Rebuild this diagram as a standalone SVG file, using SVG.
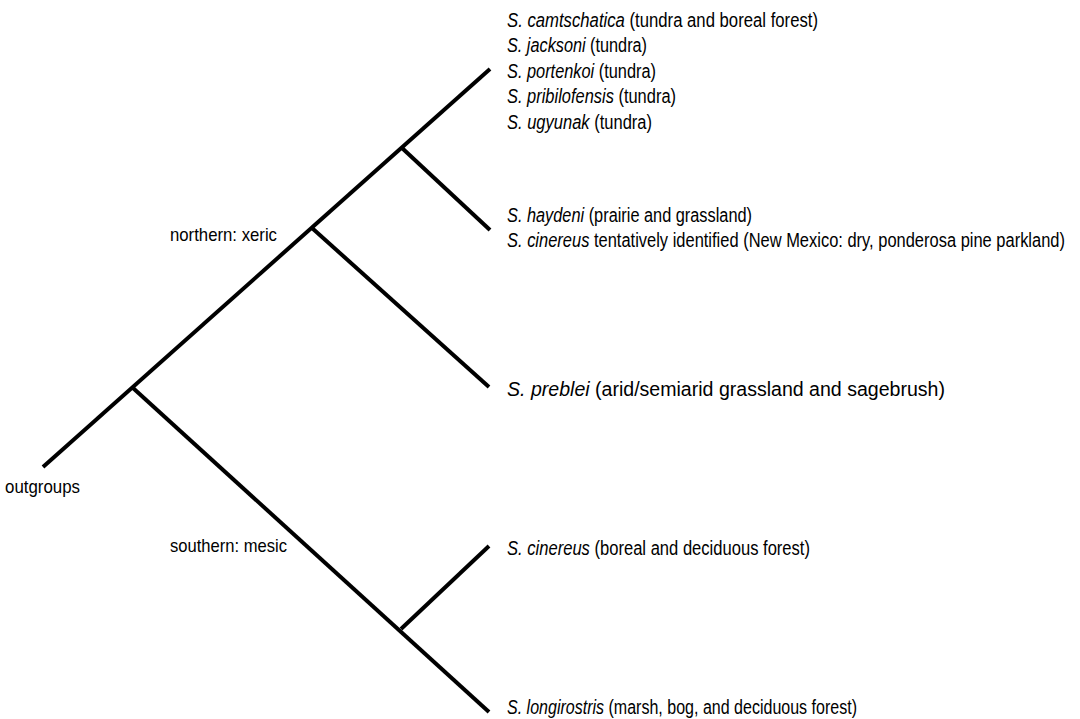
<svg xmlns="http://www.w3.org/2000/svg" width="1080" height="719" viewBox="0 0 1080 719">
<style>
.br{stroke:#000;stroke-width:4;fill:none;stroke-linecap:butt}
.sp{font-family:"Liberation Sans",Arial,sans-serif;font-size:20px;fill:#000}
.lb{font-family:"Liberation Sans",Arial,sans-serif;font-size:19px;fill:#000}
.it{font-style:italic}
</style>
<rect width="1080" height="719" fill="#fff"/>
<g id="connectors">
<line class="br" x1="43" y1="467" x2="490" y2="69"/>
<line class="br" x1="402" y1="148" x2="490" y2="230"/>
<line class="br" x1="312" y1="228" x2="489" y2="387"/>
<line class="br" x1="133" y1="388" x2="489" y2="712"/>
<line class="br" x1="401" y1="629" x2="489" y2="546"/>
</g>
<g id="node-tundra">
<text class="sp" x="507" y="27" textLength="311" lengthAdjust="spacingAndGlyphs"><tspan class="it">S. camtschatica</tspan> (tundra and boreal forest)</text>
<text class="sp" x="507" y="52" textLength="140" lengthAdjust="spacingAndGlyphs"><tspan class="it">S. jacksoni</tspan> (tundra)</text>
<text class="sp" x="507" y="78" textLength="149" lengthAdjust="spacingAndGlyphs"><tspan class="it">S. portenkoi</tspan> (tundra)</text>
<text class="sp" x="507" y="103" textLength="169" lengthAdjust="spacingAndGlyphs"><tspan class="it">S. pribilofensis</tspan> (tundra)</text>
<text class="sp" x="507" y="129" textLength="145" lengthAdjust="spacingAndGlyphs"><tspan class="it">S. ugyunak</tspan> (tundra)</text>
</g>
<g id="node-haydeni">
<text class="sp" x="507" y="222" textLength="245" lengthAdjust="spacingAndGlyphs"><tspan class="it">S. haydeni</tspan> (prairie and grassland)</text>
<text class="sp" x="507" y="247" textLength="558" lengthAdjust="spacingAndGlyphs"><tspan class="it">S. cinereus</tspan> tentatively identified (New Mexico: dry, ponderosa pine parkland)</text>
</g>
<g id="node-preblei">
<text class="sp" x="507" y="396" textLength="438" lengthAdjust="spacingAndGlyphs"><tspan class="it">S. preblei</tspan> (arid/semiarid grassland and sagebrush)</text>
</g>
<g id="node-cinereus">
<text class="sp" x="507" y="555" textLength="303" lengthAdjust="spacingAndGlyphs"><tspan class="it">S. cinereus</tspan> (boreal and deciduous forest)</text>
</g>
<g id="node-longirostris">
<text class="sp" x="507" y="714" textLength="350" lengthAdjust="spacingAndGlyphs"><tspan class="it">S. longirostris</tspan> (marsh, bog, and deciduous forest)</text>
</g>
<g id="label-northern">
<text class="lb" x="170" y="241" textLength="107" lengthAdjust="spacingAndGlyphs">northern: xeric</text>
</g>
<g id="label-southern">
<text class="lb" x="170" y="552" textLength="117" lengthAdjust="spacingAndGlyphs">southern: mesic</text>
</g>
<g id="node-outgroups">
<text class="lb" x="5" y="493" textLength="75" lengthAdjust="spacingAndGlyphs">outgroups</text>
</g>
</svg>
